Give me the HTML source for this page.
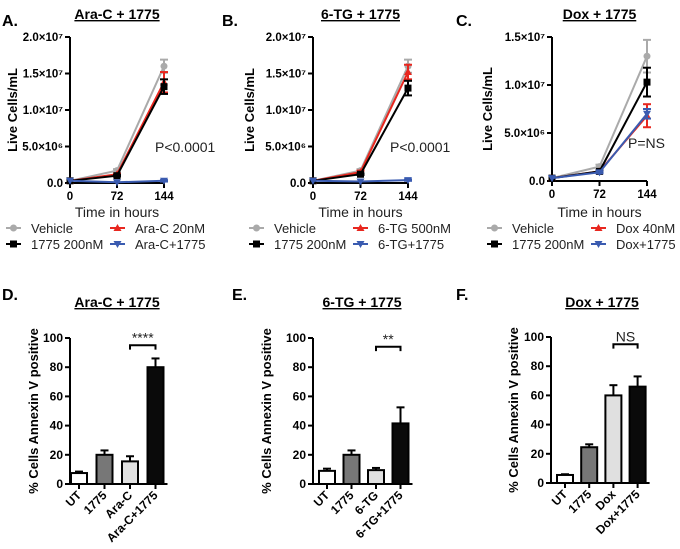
<!DOCTYPE html>
<html><head><meta charset="utf-8"><style>
body{margin:0;background:#fff;}
svg{display:block;font-family:"Liberation Sans",Arial,sans-serif;}
.tick{font-size:11.5px;font-weight:bold;}
.btick{font-size:12px;font-weight:bold;}
.lab{font-size:13px;font-weight:bold;}
.ttl{font-size:14px;font-weight:bold;text-decoration:underline;}
.pl{font-size:16px;font-weight:bold;}
.leg{font-size:14px;fill:#222;}
.lg{font-size:13px;fill:#222;}
</style></head><body>
<svg id="fig" width="680" height="549" viewBox="0 0 680 549" xmlns="http://www.w3.org/2000/svg"></svg>
<script>
// ---- line chart data (values in units of 1e7 cells/mL) ----
const hours = [0, 72, 144];
const aVehicle = [0.03, 0.17, 1.60], aVehicleErr = [0, 0.02, 0.09];
const aDrug1775 = [0.03, 0.10, 1.32], aDrug1775Err = [0, 0.01, 0.10];
const aAraC = [0.03, 0.12, 1.38], aAraCErr = [0, 0.01, 0.14];
const aCombo = [0.03, 0.01, 0.03], aComboErr = [0, 0, 0.01];
const bVehicle = [0.03, 0.17, 1.60], bVehicleErr = [0, 0.02, 0.09];
const bDrug1775 = [0.03, 0.12, 1.30], bDrug1775Err = [0, 0.01, 0.10];
const bTG = [0.03, 0.15, 1.52], bTGErr = [0, 0.02, 0.10];
const bCombo = [0.03, 0.02, 0.04], bComboErr = [0, 0, 0.01];
const cVehicle = [0.03, 0.15, 1.30], cVehicleErr = [0, 0.02, 0.17];
const cDrug1775 = [0.03, 0.10, 1.03], cDrug1775Err = [0, 0.01, 0.15];
const cDox = [0.03, 0.10, 0.68], cDoxErr = [0, 0.01, 0.12];
const cCombo = [0.03, 0.09, 0.70], cComboErr = [0, 0.01, 0.05];
const yTicksAB = ["0.0", "5.0×10⁶", "1.0×10⁷", "1.5×10⁷", "2.0×10⁷"];
const yTickValsAB = [0, 0.5, 1.0, 1.5, 2.0];
const yTicksC = ["0.0", "5.0×10⁶", "1.0×10⁷", "1.5×10⁷"];
const yTickValsC = [0, 0.5, 1.0, 1.5];
// ---- bar chart data ----
const dCats = ["UT", "1775", "Ara-C", "Ara-C+1775"];
const dVals = [7.5, 20, 15.5, 80], dErr = [1, 3, 3.5, 6];
const eCats = ["UT", "1775", "6-TG", "6-TG+1775"];
const eVals = [9, 20, 9.5, 41.5], eErr = [1.5, 3, 1.5, 11];
const fCats = ["UT", "1775", "Dox", "Dox+1775"];
const fVals = [5.5, 24.5, 60, 66], fErr = [0.5, 2, 7, 7];
const barTicks = [0, 20, 40, 60, 80, 100];

const NS = "http://www.w3.org/2000/svg";
const svg = document.getElementById('fig');
function mk(tag, attrs, parent, text) {
  const e = document.createElementNS(NS, tag);
  for (const k in attrs) e.setAttribute(k, attrs[k]);
  if (text !== undefined) e.textContent = text;
  (parent || svg).appendChild(e);
  return e;
}
function label(x, y, t, cls, name, extra) {
  const e = mk('text', Object.assign({x: x, y: y, class: cls}, extra || {}), svg, t);
  
  
  return e;
}
function marker(g, type, x, y, col) {
  let e;
  if (type === 'circle') e = mk('circle', {cx: x, cy: y, r: 3.5, fill: col}, g);
  else if (type === 'square') e = mk('rect', {x: x - 3.5, y: y - 3.5, width: 7, height: 7, fill: col}, g);
  else if (type === 'up') e = mk('path', {d: `M${x} ${y - 4}L${x + 4} ${y + 3}L${x - 4} ${y + 3}Z`, fill: col}, g);
  else e = mk('path', {d: `M${x} ${y + 4}L${x + 4} ${y - 3}L${x - 4} ${y - 3}Z`, fill: col}, g);
  return e;
}

function lineChart(p) {
  const xs = v => p.x0 + (v / 144) * (p.x1 - p.x0);
  const ys = v => p.yb - (v / p.ymax) * (p.yb - p.yt);
  label(p.plx, 26, p.letter, 'pl', 'panel-label-' + p.id);
  label((p.x0 + p.x1) / 2, 19, p.title, 'ttl', 'chart-title-' + p.id, {'text-anchor': 'middle'});
  label(p.ylx, (p.yt + p.yb) / 2, 'Live Cells/mL', 'lab', 'y-axis-title-' + p.id, {'text-anchor': 'middle', transform: `rotate(-90 ${p.ylx} ${(p.yt + p.yb) / 2})`});
  label((p.x0 + p.x1) / 2, 217, 'Time in hours', 'leg', 'x-axis-title-' + p.id, {'text-anchor': 'middle'});
  const ax = mk('g', {stroke: '#000', 'stroke-width': 2});
  
  
  mk('line', {x1: p.x0, y1: p.yt, x2: p.x0, y2: p.yb + 1}, ax);
  mk('line', {x1: p.x0 - 1, y1: p.yb, x2: p.x1, y2: p.yb}, ax);
  p.yv.forEach((v, i) => {
    mk('line', {x1: p.x0 - 5, y1: ys(v), x2: p.x0, y2: ys(v)}, ax);
    label(p.x0 - 7, ys(v) + 4, p.yl[i], 'tick', 'y-tick-' + p.id, {'text-anchor': 'end'});
  });
  hours.forEach(h => {
    mk('line', {x1: xs(h), y1: p.yb, x2: xs(h), y2: p.yb + 5}, ax);
    label(xs(h), p.yb + 17, String(h), 'tick', 'x-tick-' + p.id, {'text-anchor': 'middle'});
  });
  p.series.forEach(s => {
    const g = mk('g', {});
    
    
    mk('polyline', {points: hours.map((h, i) => xs(h) + ',' + ys(s.v[i])).join(' '), fill: 'none', stroke: s.col, 'stroke-width': 2}, g);
    hours.forEach((h, i) => {
      const e = s.e[i];
      if (e > 0) {
        mk('line', {x1: xs(h), y1: ys(s.v[i] - e), x2: xs(h), y2: ys(s.v[i] + e), stroke: s.col, 'stroke-width': 2}, g);
        mk('line', {x1: xs(h) - 4, y1: ys(s.v[i] + e), x2: xs(h) + 4, y2: ys(s.v[i] + e), stroke: s.col, 'stroke-width': 2}, g);
        mk('line', {x1: xs(h) - 4, y1: ys(s.v[i] - e), x2: xs(h) + 4, y2: ys(s.v[i] - e), stroke: s.col, 'stroke-width': 2}, g);
      }
      marker(g, s.m, xs(h), ys(s.v[i]), s.col);
    });
  });
  label(p.px, p.py, p.ptext, 'leg', 'p-value-' + p.id);
  p.series.forEach((s, i) => {
    const lx = p.lx + (i % 2) * 104, ly = 228 + Math.floor(i / 2) * 16;
    const g = mk('g', {});
    
    
    mk('line', {x1: lx, y1: ly, x2: lx + 15, y2: ly, stroke: s.col, 'stroke-width': 2}, g);
    marker(g, s.m, lx + 7.5, ly, s.col);
    mk('text', {x: lx + 25, y: ly + 5, class: 'lg'}, g, s.label);
  });
}

lineChart({id: 'a', letter: 'A.', plx: 2, title: 'Ara-C + 1775', x0: 70, x1: 164, yt: 37, yb: 183, ymax: 2.0, yv: yTickValsAB, yl: yTicksAB, ylx: 17, px: 155, py: 152, ptext: 'P<0.0001', lx: 6,
  series: [
    {name: 'vehicle-a', label: 'Vehicle', col: '#aaaaaa', m: 'circle', v: aVehicle, e: aVehicleErr},
    {name: 'arac-a', label: 'Ara-C 20nM', col: '#e8271f', m: 'up', v: aAraC, e: aAraCErr},
    {name: 'drug1775-a', label: '1775 200nM', col: '#000000', m: 'square', v: aDrug1775, e: aDrug1775Err},
    {name: 'combo-a', label: 'Ara-C+1775', col: '#3a5bb0', m: 'down', v: aCombo, e: aComboErr}]});
lineChart({id: 'b', letter: 'B.', plx: 222, title: '6-TG + 1775', x0: 313, x1: 408, yt: 37, yb: 183, ymax: 2.0, yv: yTickValsAB, yl: yTicksAB, ylx: 254, px: 390, py: 152, ptext: 'P<0.0001', lx: 249,
  series: [
    {name: 'vehicle-b', label: 'Vehicle', col: '#aaaaaa', m: 'circle', v: bVehicle, e: bVehicleErr},
    {name: 'tg-b', label: '6-TG 500nM', col: '#e8271f', m: 'up', v: bTG, e: bTGErr},
    {name: 'drug1775-b', label: '1775 200nM', col: '#000000', m: 'square', v: bDrug1775, e: bDrug1775Err},
    {name: 'combo-b', label: '6-TG+1775', col: '#3a5bb0', m: 'down', v: bCombo, e: bComboErr}]});
lineChart({id: 'c', letter: 'C.', plx: 456, title: 'Dox + 1775', x0: 552, x1: 647, yt: 37, yb: 181, ymax: 1.5, yv: yTickValsC, yl: yTicksC, ylx: 492, px: 628, py: 148, ptext: 'P=NS', lx: 487,
  series: [
    {name: 'vehicle-c', label: 'Vehicle', col: '#aaaaaa', m: 'circle', v: cVehicle, e: cVehicleErr},
    {name: 'dox-c', label: 'Dox 40nM', col: '#e8271f', m: 'up', v: cDox, e: cDoxErr},
    {name: 'drug1775-c', label: '1775 200nM', col: '#000000', m: 'square', v: cDrug1775, e: cDrug1775Err},
    {name: 'combo-c', label: 'Dox+1775', col: '#3a5bb0', m: 'down', v: cCombo, e: cComboErr}]});

const barFills = ['#ffffff', '#777777', '#e0e0e0', '#0a0a0a'];
function barChart(p) {
  const ys = v => p.yb - (v / 100) * (p.yb - p.yt);
  const cx = i => p.c0 + i * p.step;
  label(p.plx, 300, p.letter, 'pl', 'panel-label-' + p.id);
  label(p.tx, 307, p.title, 'ttl', 'chart-title-' + p.id, {'text-anchor': 'middle'});
  const ym = (p.yt + p.yb) / 2;
  label(p.ylx, ym, '% Cells Annexin V positive', 'lab', 'y-axis-title-' + p.id, {'text-anchor': 'middle', transform: `rotate(-90 ${p.ylx} ${ym})`});
  p.vals.forEach((v, i) => {
    const g = mk('g', {});
    
    
    const top = ys(v + p.err[i]);
    mk('line', {x1: cx(i), y1: ys(v), x2: cx(i), y2: top, stroke: '#000', 'stroke-width': 2}, g);
    mk('line', {x1: cx(i) - 4, y1: top, x2: cx(i) + 4, y2: top, stroke: '#000', 'stroke-width': 2}, g);
    mk('rect', {x: cx(i) - 8, y: ys(v), width: 16, height: p.yb - ys(v), fill: barFills[i], stroke: '#000', 'stroke-width': 2}, g);
  });
  const ax = mk('g', {stroke: '#000', 'stroke-width': 2});
  
  
  mk('line', {x1: p.x0, y1: p.yt, x2: p.x0, y2: p.yb + 1}, ax);
  mk('line', {x1: p.x0 - 1, y1: p.yb, x2: cx(3) + 12, y2: p.yb}, ax);
  barTicks.forEach(t => {
    mk('line', {x1: p.x0 - 5, y1: ys(t), x2: p.x0, y2: ys(t)}, ax);
    label(p.x0 - 7, ys(t) + 4, String(t), 'btick', 'y-tick-' + p.id, {'text-anchor': 'end'});
  });
  p.cats.forEach((c, i) => {
    mk('line', {x1: cx(i), y1: p.yb, x2: cx(i), y2: p.yb + 5}, ax);
    label(cx(i) + 3, p.yb + 12, c, 'btick', 'x-tick-' + p.id, {'text-anchor': 'end', transform: `rotate(-45 ${cx(i) + 3} ${p.yb + 12})`});
  });
  const g = mk('g', {});
  
  
  const by = ys(p.sig[0]), bt = ys(p.sig[0] - 3);
  mk('path', {d: `M${cx(2)} ${bt}L${cx(2)} ${by}L${cx(3)} ${by}L${cx(3)} ${bt}`, fill: 'none', stroke: '#000', 'stroke-width': 2}, g);
  mk('text', {x: (cx(2) + cx(3)) / 2, y: by - 3, 'text-anchor': 'middle', class: 'leg', 'font-size': '12px'}, g, p.sig[1]);
}
barChart({id: 'd', letter: 'D.', plx: 2, title: 'Ara-C + 1775', tx: 117, x0: 70, c0: 79, step: 25.5, yt: 338, yb: 484, ylx: 38, cats: dCats, vals: dVals, err: dErr, sig: [95, '****']});
barChart({id: 'e', letter: 'E.', plx: 232, title: '6-TG + 1775', tx: 362, x0: 313, c0: 327, step: 24.5, yt: 338, yb: 484, ylx: 271, cats: eCats, vals: eVals, err: eErr, sig: [94, '**']});
barChart({id: 'f', letter: 'F.', plx: 456, title: 'Dox + 1775', tx: 602, x0: 551, c0: 565, step: 24.2, yt: 337, yb: 483, ylx: 518, cats: fCats, vals: fVals, err: fErr, sig: [95, 'NS']});
</script>
</body></html>
